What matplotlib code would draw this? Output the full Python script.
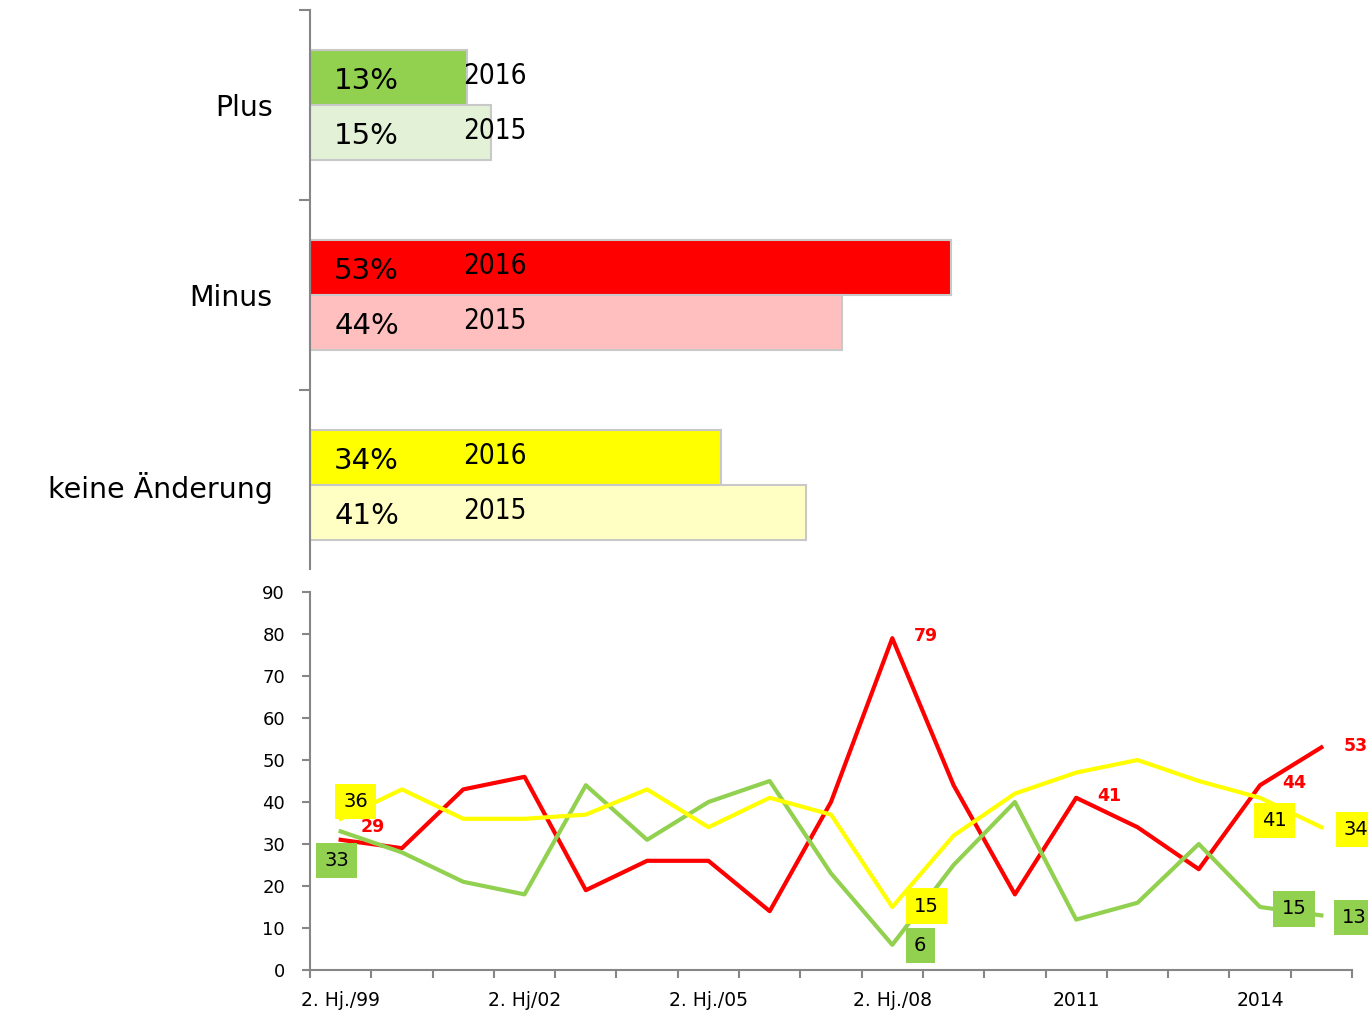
import matplotlib
matplotlib.use("Agg")
import matplotlib.pyplot as plt
from matplotlib import font_manager

# top chart: share of answers, 2016 vs 2015
categories = ["Plus", "Minus", "keine Änderung"]
share_2016 = [13, 53, 34]
share_2015 = [15, 44, 41]
colors_2016 = ["#92D050", "#FF0000", "#FFFF00"]
colors_2015 = ["#E3F1D7", "#FFBFBF", "#FFFFC4"]

# bottom chart: time series
periods = ["2. Hj./99", "", "", "2. Hj/02", "", "", "2. Hj./05", "", "",
           "2. Hj./08", "", "", "2011", "", "", "2014", ""]
minus = [31, 29, 43, 46, 19, 26, 26, 14, 40, 79, 44, 18, 41, 34, 24, 44, 53]
plus = [33, 28, 21, 18, 44, 31, 40, 45, 23, 6, 25, 40, 12, 16, 30, 15, 13]
keine = [36, 43, 36, 36, 37, 43, 34, 41, 37, 15, 32, 42, 47, 50, 45, 41, 34]

# narrow font for the year labels, if there is one
year_font = dict(family="Liberation Sans", fontsize=20)
for f in font_manager.fontManager.ttflist:
    if f.name == "DejaVu Sans" and "ondensed" in f.fname and "Bold" not in f.fname \
            and "Oblique" not in f.fname:
        year_font = dict(family="DejaVu Sans", stretch="condensed", fontsize=20)
        break

fig = plt.figure(figsize=(13.68, 10.10), dpi=100)
axis_grey = "#868686"

# ---------- bar chart ----------
ax = fig.add_axes([310 / 1368, 1 - 580 / 1010, 1042 / 1368, 570 / 1010])
h = 0.29
ys = range(len(categories))
for i in ys:
    ax.barh(i - h / 2, share_2016[i], height=h, color=colors_2016[i],
            edgecolor="#C8C8C8", linewidth=1.5)
    ax.barh(i + h / 2, share_2015[i], height=h, color=colors_2015[i],
            edgecolor="#C8C8C8", linewidth=1.5)
    ax.text(2.0, i - h / 2 + 0.02, f"{share_2016[i]}%", va="center", ha="left",
            fontsize=21)
    ax.text(2.0, i + h / 2 + 0.02, f"{share_2015[i]}%", va="center", ha="left",
            fontsize=21)
    ax.text(12.7, i - h / 2 - 0.01, "2016", va="center", ha="left", **year_font)
    ax.text(12.7, i + h / 2 - 0.01, "2015", va="center", ha="left", **year_font)

ax.set_xlim(0, 86.2)
ax.set_ylim(2.5, -0.5)
ax.set_xticks([])
ax.set_yticks([-0.5, 0.5, 1.5])
ax.set_yticklabels([])
ax.set_yticks(list(ys), minor=True)
ax.set_yticklabels(categories, minor=True, fontsize=20.5)
ax.tick_params(axis="y", which="major", length=8, color=axis_grey, width=1.5)
ax.tick_params(axis="y", which="minor", length=0, pad=27)
for s in ["top", "right", "bottom"]:
    ax.spines[s].set_visible(False)
ax.spines["left"].set_color(axis_grey)
ax.spines["left"].set_linewidth(1.5)
ax.spines["left"].set_bounds(2.44, -0.5)

# ---------- line chart ----------
ax2 = fig.add_axes([310 / 1368, 1 - 970 / 1010, 1042 / 1368, 378 / 1010])
x = list(range(len(periods)))
ax2.plot(x, minus, color="#FF0000", lw=3)
ax2.plot(x, plus, color="#92D050", lw=3)
ax2.plot(x, keine, color="#FFFF00", lw=3)

ax2.set_xlim(-0.5, len(periods) - 0.5)
ax2.set_ylim(0, 90)
ax2.set_yticks(range(0, 91, 10))
ax2.tick_params(axis="y", labelsize=13, length=6, color=axis_grey, width=1.5, pad=12)
ax2.set_xticks([i - 0.5 for i in range(len(periods) + 1)])
ax2.set_xticklabels([])
ax2.set_xticks([i for i in x if periods[i]], minor=True)
ax2.set_xticklabels([p for p in periods if p], minor=True, fontsize=13.5)
ax2.tick_params(axis="x", which="major", length=6, color=axis_grey, width=1.5)
ax2.tick_params(axis="x", which="minor", length=0, pad=15)
for s in ["top", "right"]:
    ax2.spines[s].set_visible(False)
for s in ["left", "bottom"]:
    ax2.spines[s].set_color(axis_grey)
    ax2.spines[s].set_linewidth(1.5)

# data labels: (index, dx px, dy px)
red_labels = [(1, -29, 21), (9, 34, 2), (12, 33, 2), (15, 34, 2), (16, 34, 1)]
yellow_labels = [(0, 15, 17), (9, 34, 1), (15, 14, -23), (16, 35, -2)]
green_labels = [(0, -4, -29), (9, 28, -1), (15, 34, -2), (16, 33, -2)]

for i, dx, dy in red_labels:
    ax2.annotate(str(minus[i]), (x[i], minus[i]), xytext=(dx, dy),
                 textcoords="offset pixels", ha="center", va="center",
                 color="#FF0000", fontsize=12.5, fontweight="bold",
                 annotation_clip=False)
for i, dx, dy in yellow_labels:
    ax2.annotate(str(keine[i]), (x[i], keine[i]), xytext=(dx, dy),
                 textcoords="offset pixels", ha="center", va="center",
                 fontsize=14, annotation_clip=False,
                 bbox=dict(boxstyle="square,pad=0.42", fc="#FFFF00", ec="none"))
for i, dx, dy in green_labels:
    ax2.annotate(str(plus[i]), (x[i], plus[i]), xytext=(dx, dy),
                 textcoords="offset pixels", ha="center", va="center",
                 fontsize=14, annotation_clip=False,
                 bbox=dict(boxstyle="square,pad=0.42", fc="#92D050", ec="none"))

fig.savefig("out.png", dpi=100)
